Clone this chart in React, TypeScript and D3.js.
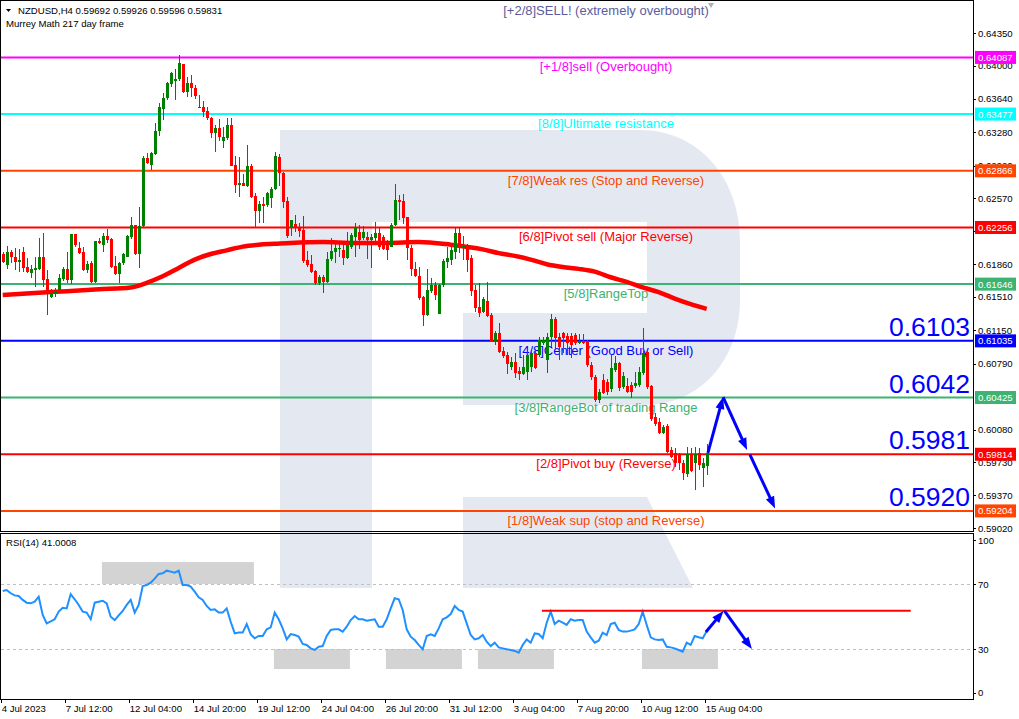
import React from "react";
import * as d3 from "d3";

const W = 1019;
const H = 719;

// [open, high, low, close] per H4 bar, starting 4 Jul 2023 20:00
const candles: number[][] = [
[0.6197,0.6199,0.6187,0.6188],[0.6185,0.6206,0.6181,0.6199],[0.6199,0.6201,0.6187,0.6194],[0.6194,0.6203,0.6180,0.6188],
[0.6188,0.6202,0.6178,0.6191],[0.6199,0.6205,0.6178,0.6182],[0.6183,0.6193,0.6177,0.6178],[0.6177,0.6185,0.6171,0.6181],
[0.6180,0.6194,0.6161,0.6182],[0.6181,0.6214,0.6180,0.6194],[0.6194,0.6220,0.6161,0.6169],[0.6170,0.6180,0.6131,0.6156],
[0.6151,0.6159,0.6150,0.6155],[0.6154,0.6160,0.6151,0.6157],[0.6158,0.6175,0.6157,0.6171],[0.6170,0.6183,0.6168,0.6181],
[0.6181,0.6199,0.6166,0.6169],[0.6169,0.6219,0.6165,0.6219],[0.6219,0.6219,0.6205,0.6207],[0.6203,0.6210,0.6197,0.6198],
[0.6199,0.6205,0.6179,0.6180],[0.6180,0.6189,0.6177,0.6186],[0.6187,0.6189,0.6166,0.6167],[0.6167,0.6211,0.6166,0.6211],
[0.6211,0.6214,0.6208,0.6209],[0.6207,0.6220,0.6199,0.6216],[0.6216,0.6224,0.6209,0.6212],[0.6213,0.6214,0.6182,0.6183],
[0.6184,0.6195,0.6174,0.6175],[0.6175,0.6188,0.6166,0.6187],[0.6187,0.6198,0.6185,0.6197],[0.6194,0.6217,0.6194,0.6216],
[0.6215,0.6237,0.6213,0.6228],[0.6228,0.6228,0.6196,0.6197],[0.6197,0.6248,0.6182,0.6227],[0.6227,0.6303,0.6226,0.6300],
[0.6300,0.6306,0.6294,0.6295],[0.6293,0.6307,0.6287,0.6306],[0.6305,0.6338,0.6304,0.6329],[0.6329,0.6360,0.6324,0.6355],
[0.6353,0.6370,0.6341,0.6365],[0.6365,0.6382,0.6363,0.6381],[0.6380,0.6393,0.6377,0.6392],[0.6383,0.6396,0.6363,0.6385],
[0.6385,0.6411,0.6383,0.6403],[0.6402,0.6402,0.6370,0.6372],[0.6372,0.6388,0.6366,0.6381],[0.6381,0.6390,0.6366,0.6376],
[0.6376,0.6379,0.6364,0.6367],[0.6354,0.6368,0.6354,0.6355],[0.6355,0.6362,0.6345,0.6350],[0.6351,0.6355,0.6341,0.6343],
[0.6343,0.6345,0.6322,0.6327],[0.6327,0.6336,0.6307,0.6333],[0.6333,0.6342,0.6319,0.6323],[0.6319,0.6334,0.6311,0.6323],
[0.6322,0.6343,0.6320,0.6336],[0.6336,0.6343,0.6292,0.6292],[0.6293,0.6303,0.6263,0.6271],[0.6271,0.6301,0.6258,0.6274],
[0.6274,0.6283,0.6270,0.6270],[0.6270,0.6314,0.6269,0.6292],[0.6292,0.6294,0.6257,0.6258],[0.6259,0.6263,0.6225,0.6243],
[0.6243,0.6254,0.6230,0.6251],[0.6251,0.6258,0.6230,0.6249],[0.6250,0.6264,0.6248,0.6263],[0.6257,0.6269,0.6247,0.6267],
[0.6267,0.6307,0.6266,0.6303],[0.6301,0.6305,0.6270,0.6284],[0.6284,0.6285,0.6247,0.6253],[0.6254,0.6258,0.6214,0.6216],
[0.6226,0.6234,0.6216,0.6234],[0.6229,0.6239,0.6221,0.6225],[0.6226,0.6230,0.6215,0.6222],[0.6223,0.6238,0.6187,0.6189],
[0.6191,0.6200,0.6183,0.6185],[0.6186,0.6196,0.6177,0.6178],[0.6179,0.6180,0.6164,0.6166],[0.6166,0.6174,0.6164,0.6172],
[0.6172,0.6174,0.6155,0.6167],[0.6167,0.6199,0.6166,0.6192],[0.6192,0.6214,0.6189,0.6200],[0.6199,0.6209,0.6187,0.6203],
[0.6202,0.6209,0.6194,0.6203],[0.6201,0.6207,0.6185,0.6193],[0.6193,0.6221,0.6192,0.6207],[0.6205,0.6220,0.6202,0.6217],
[0.6215,0.6230,0.6194,0.6225],[0.6221,0.6228,0.6202,0.6212],[0.6214,0.6227,0.6212,0.6221],[0.6215,0.6221,0.6192,0.6212],
[0.6212,0.6219,0.6182,0.6215],[0.6214,0.6231,0.6207,0.6220],[0.6220,0.6225,0.6201,0.6205],[0.6215,0.6217,0.6201,0.6202],
[0.6207,0.6212,0.6191,0.6201],[0.6205,0.6230,0.6205,0.6228],[0.6228,0.6272,0.6227,0.6255],[0.6255,0.6261,0.6234,0.6253],
[0.6254,0.6262,0.6229,0.6236],[0.6237,0.6237,0.6191,0.6203],[0.6203,0.6207,0.6173,0.6181],[0.6181,0.6188,0.6172,0.6173],
[0.6173,0.6183,0.6147,0.6150],[0.6151,0.6152,0.6119,0.6131],[0.6131,0.6181,0.6130,0.6158],[0.6157,0.6171,0.6155,0.6164],
[0.6164,0.6167,0.6147,0.6153],[0.6132,0.6165,0.6132,0.6164],[0.6164,0.6192,0.6161,0.6189],[0.6188,0.6205,0.6182,0.6193],
[0.6191,0.6205,0.6185,0.6201],[0.6199,0.6226,0.6192,0.6220],[0.6220,0.6225,0.6198,0.6207],[0.6205,0.6216,0.6191,0.6207],
[0.6207,0.6208,0.6178,0.6191],[0.6193,0.6196,0.6152,0.6157],[0.6158,0.6164,0.6135,0.6139],[0.6140,0.6166,0.6129,0.6133],
[0.6135,0.6151,0.6133,0.6149],[0.6146,0.6167,0.6129,0.6130],[0.6131,0.6133,0.6102,0.6103],[0.6102,0.6114,0.6099,0.6112],
[0.6112,0.6123,0.6090,0.6091],[0.6093,0.6097,0.6085,0.6087],[0.6088,0.6091,0.6068,0.6079],[0.6075,0.6086,0.6072,0.6081],
[0.6081,0.6090,0.6063,0.6069],[0.6071,0.6075,0.6061,0.6068],[0.6068,0.6088,0.6067,0.6075],[0.6070,0.6094,0.6061,0.6088],
[0.6075,0.6094,0.6070,0.6090],[0.6090,0.6095,0.6073,0.6074],[0.6088,0.6108,0.6086,0.6104],[0.6101,0.6108,0.6099,0.6104],
[0.6083,0.6112,0.6069,0.6108],[0.6108,0.6132,0.6097,0.6127],[0.6127,0.6129,0.6094,0.6107],[0.6108,0.6112,0.6083,0.6097],
[0.6112,0.6113,0.6090,0.6107],[0.6109,0.6112,0.6088,0.6101],[0.6109,0.6112,0.6085,0.6099],[0.6110,0.6112,0.6099,0.6101],
[0.6101,0.6111,0.6100,0.6103],[0.6102,0.6111,0.6100,0.6101],[0.6102,0.6104,0.6075,0.6077],[0.6077,0.6081,0.6061,0.6065],
[0.6065,0.6067,0.6038,0.6040],[0.6040,0.6052,0.6037,0.6048],[0.6061,0.6068,0.6046,0.6047],[0.6059,0.6062,0.6045,0.6048],
[0.6052,0.6088,0.6048,0.6074],[0.6072,0.6087,0.6070,0.6080],[0.6080,0.6081,0.6049,0.6053],[0.6054,0.6070,0.6052,0.6066],
[0.6055,0.6063,0.6047,0.6048],[0.6056,0.6059,0.6042,0.6048],[0.6055,0.6070,0.6053,0.6058],[0.6056,0.6075,0.6054,0.6070],
[0.6069,0.6117,0.6067,0.6090],[0.6091,0.6094,0.6052,0.6054],[0.6055,0.6056,0.6017,0.6019],[0.6022,0.6026,0.6012,0.6014],
[0.6016,0.6020,0.6003,0.6004],[0.6004,0.6013,0.6003,0.6011],[0.6012,0.6014,0.5983,0.5984],[0.5986,0.5989,0.5977,0.5978],
[0.5983,0.5988,0.5968,0.5972],[0.5982,0.5983,0.5964,0.5972],[0.5972,0.5975,0.5954,0.5961],[0.5960,0.5989,0.5957,0.5982],
[0.5982,0.5988,0.5962,0.5963],[0.5972,0.5989,0.5943,0.5982],[0.5983,0.5988,0.5964,0.5970],[0.5967,0.5977,0.5946,0.5972],
[0.59692,0.59926,0.59596,0.59831],
];

// 217-period moving average (bar index, value)
const maIndex = [0,8,16,24,32,36,40,44,48,52,56,60,64,68,72,80,88,96,104,112,120,124,128,132,136,140,144,148,152,156,160,164,168,172,176];
const maValue = [0.6153,0.6155,0.6157,0.6159,0.6161,0.6166,0.6173,0.6182,0.6191,0.6197,0.6201,0.6205,0.6207,0.6208,0.6209,0.6210,0.6209,0.6209,0.6210,0.6207,0.6202,0.6198,0.6195,0.6191,0.6186,0.6183,0.6181,0.6178,0.6172,0.6167,0.6161,0.6156,0.6149,0.6143,0.6138];

const rsiValues = [
65.7,66.3,64.3,63.0,62.6,60.2,58.5,58.1,59.1,62.2,
50.9,45.8,47.0,48.3,53.0,55.4,55.0,63.8,60.6,57.1,
53.0,52.4,48.3,58.5,59.1,59.7,58.1,49.9,47.8,50.7,
53.4,57.1,60.2,52.4,57.1,68.8,69.4,70.8,73.3,76.2,
76.6,78.2,77.6,77.0,78.2,69.4,69.4,68.4,65.3,61.8,
60.2,56.5,54.0,54.4,52.4,52.4,55.0,46.8,39.6,40.1,
40.1,45.4,39.0,36.6,38.0,38.0,42.1,43.3,52.4,48.3,
42.7,35.9,39.2,38.6,37.6,33.1,32.5,30.4,29.4,31.4,
31.8,38.0,41.7,42.1,42.1,40.7,43.7,47.8,50.3,48.3,
48.3,47.4,47.8,48.3,43.7,43.7,48.3,55.0,61.2,60.6,
54.0,42.1,37.6,35.5,32.5,29.8,38.0,39.0,38.0,42.7,
48.3,49.5,51.5,56.5,54.0,53.0,45.8,38.6,35.9,36.6,
38.6,34.5,31.8,33.9,31.0,30.4,29.8,29.4,28.8,27.7,
32.5,35.9,33.9,39.6,39.2,36.6,46.2,53.0,45.4,47.4,
46.2,44.8,48.3,47.4,47.8,47.8,40.7,37.2,33.9,35.1,
40.1,38.6,45.4,46.2,41.7,40.7,40.7,41.3,42.1,45.4,
53.0,44.8,37.2,35.9,35.5,35.9,31.4,31.0,30.4,29.4,
28.4,33.9,32.5,38.0,37.2,36.6,41.0,
];

const priceTicks = [0.6435,0.6400,0.6364,0.6328,0.6292,0.6257,0.6222,0.6186,0.6151,0.6115,0.6079,0.6008,0.5973,0.5937,0.5902];
const rsiTicks = [100, 70, 30, 0];
const timeLabels = ["4 Jul 2023","7 Jul 12:00","12 Jul 04:00","14 Jul 20:00","19 Jul 12:00","24 Jul 04:00","26 Jul 20:00","31 Jul 12:00","3 Aug 04:00","7 Aug 20:00","10 Aug 12:00","15 Aug 04:00"];
const timeLabelIndex = [0,16,32,48,64,80,96,112,128,144,160,176];

const levelNames = ["[+2/8]SELL! (extremely overbought)","[+1/8]sell (Overbought)","[8/8]Ultimate resistance","[7/8]Weak res (Stop and Reverse)","[6/8]Pivot sell (Major Reverse)","[5/8]RangeTop","[4/8]Center (Good Buy or Sell)","[3/8]RangeBot of trading Range","[2/8]Pivot buy (Reverse)","[1/8]Weak sup (stop and Reverse)"];
const levelValues = [0.64697,0.64087,0.63477,0.62866,0.62256,0.61646,0.61035,0.60425,0.59814,0.59204];
const levelColors = ["#5c5c9c","#ff00ff","#00ffff","#ff4500","#ff0000","#3cb371","#0000ff","#3cb371","#ff0000","#ff4500"];

const bigLabels = ["0.6103","0.6042","0.5981","0.5920"];
const bigLabelValues = [0.61035,0.60425,0.59814,0.59204];

// forecast arrows on price: [barIndex, price] pairs
const priceArrows = [
  [[176.3,0.5983],[180.1,0.6043]],
  [[180.1,0.6043],[186.1,0.5986]],
  [[186.8,0.5981],[193.1,0.5923]],
];
const rsiArrows = [
  [[175.8,40.5],[180.2,53.4]],
  [[180.4,53.6],[187.3,30.0]],
];
const rsiLevelLine = { from: 134.8, to: 227, value: 53.6 };
const rsiBoxes = [
  [24.8,62.8,70,83.5],
  [67.8,86.8,17.7,30],
  [95.8,114.8,17.7,30],
  [118.8,137.8,17.7,30],
  [159.8,178.8,17.7,30],
];

const FONT = "'Liberation Sans', Arial, sans-serif";

function Arrow({ x1, y1, x2, y2 }: { x1: number; y1: number; x2: number; y2: number }) {
  const dx = x2 - x1, dy = y2 - y1;
  const len = Math.hypot(dx, dy);
  const ux = dx / len, uy = dy / len;
  const hl = 12, hw = 4.5;
  const bx = x2 - ux * hl, by = y2 - uy * hl;
  const px = -uy, py = ux;
  return (
    <g>
      <line x1={x1} y1={y1} x2={bx + ux * 2} y2={by + uy * 2} stroke="#0000ff" strokeWidth={3} />
      <polygon
        points={`${x2},${y2} ${bx + px * hw},${by + py * hw} ${bx - px * hw},${by - py * hw}`}
        fill="#0000ff"
      />
    </g>
  );
}

export default function App() {
  const chartLeft = 1, chartRight = 973;
  const mainTop = 1, mainBottom = 531.5;
  const rsiTop = 533.5, rsiBottom = 699;

  const x = d3.scaleLinear().domain([0, 176]).range([2.7, 706.7]);
  const y = d3.scaleLinear().domain([0.6435, 0.5902]).range([33, 528]);
  const ry = d3.scaleLinear().domain([30, 70]).range([649, 584]);

  const maLine = d3.line<number>()
    .x((_, i) => x(maIndex[i]))
    .y((d) => y(d))
    .curve(d3.curveMonotoneX)(maValue) || "";

  const rsiLine = d3.line<number>()
    .x((_, i) => x(i))
    .y((d) => ry(d))(rsiValues) || "";

  // watermark "R" logo (decorative)
  const logoMain = "M280,130 L640,130 C700,130 740,180 740,240 L740,300 C740,360 700,405 645,405 L463,405 L463,313 L647,313 L647,222 L372,222 L372,588 L280,588 Z";
  const logoLeg = "M463,497 L647,497 L693,588 L463,588 Z";

  return (
    <svg
      width={W}
      height={H}
      style={{ position: "fixed", left: 0, top: 0, background: "#fff" }}
      fontFamily={FONT}
    >
      <defs>
        <clipPath id="mainClip">
          <rect x={chartLeft} y={mainTop + 1} width={chartRight - chartLeft} height={mainBottom - mainTop - 1} />
        </clipPath>
        <clipPath id="rsiClip">
          <rect x={chartLeft} y={rsiTop + 1} width={chartRight - chartLeft} height={rsiBottom - rsiTop - 1} />
        </clipPath>
      </defs>
      <rect x={0} y={0} width={W} height={H} fill="#fff" />

      {/* watermark */}
      <g fill="#e4e9f1">
        <path d={logoMain} />
        <path d={logoLeg} />
      </g>

      {/* ---------- MAIN PANEL ---------- */}
      <g clipPath="url(#mainClip)">
        {levelValues.map((v, i) => (
          <line key={"lv" + i} x1={chartLeft} x2={chartRight} y1={y(v)} y2={y(v)} stroke={levelColors[i]} strokeWidth={2} />
        ))}
        {levelValues.map((v, i) => (
          <text key={"lt" + i} x={606} y={y(v) + 14} textAnchor="middle" fontSize={13} fill={levelColors[i]}>
            {levelNames[i]}
          </text>
        ))}
        <path d={maLine} fill="none" stroke="#ff0000" strokeWidth={4.5} />
        <g shapeRendering="crispEdges">
          {candles.map((c, i) => {
            const [o, h, l, cl] = c;
            const up = cl >= o;
            const col = up ? "#008000" : "#ff0000";
            const cx = Math.round(x(i));
            const top = y(Math.max(o, cl));
            const bot = y(Math.min(o, cl));
            return (
              <g key={"c" + i}>
                <rect x={cx} y={y(h)} width={1} height={Math.max(1, y(l) - y(h))} fill={col} />
                <rect x={cx - 1} y={top} width={3} height={Math.max(1, bot - top)} fill={col} />
              </g>
            );
          })}
        </g>
        {priceArrows.map((a, i) => (
          <Arrow key={"pa" + i} x1={x(a[0][0])} y1={y(a[0][1])} x2={x(a[1][0])} y2={y(a[1][1])} />
        ))}
        {bigLabels.map((t, i) => (
          <text key={"bl" + i} x={970} y={y(bigLabelValues[i]) - 5} textAnchor="end" fontSize={26.5} fill="#0000ff">
            {t}
          </text>
        ))}
        <polygon points="708,3 714,3 711,8" fill="#b0b0b0" />
      </g>

      {/* header */}
      <polygon points="6,9 11,9 8.5,12" fill="#000" />
      <text x={18} y={14} fontSize={9.6} fill="#000">NZDUSD,H4  0.59692 0.59926 0.59596 0.59831</text>
      <text x={6} y={27} fontSize={9.6} fill="#000">Murrey Math 217 day frame</text>

      {/* ---------- RSI PANEL ---------- */}
      <g clipPath="url(#rsiClip)">
        {rsiBoxes.map((b, i) => (
          <rect key={"rb" + i} x={x(b[0])} y={ry(b[3])} width={x(b[1]) - x(b[0])} height={ry(b[2]) - ry(b[3])} fill="#d3d3d3" />
        ))}
        {[70, 30].map((v) => (
          <line key={"rl" + v} x1={chartLeft} x2={chartRight} y1={ry(v) + 0.5} y2={ry(v) + 0.5} stroke="#c0c0c0" strokeDasharray="3,3" strokeWidth={1} />
        ))}
        <path d={rsiLine} fill="none" stroke="#1e90ff" strokeWidth={2} />
        <line x1={x(rsiLevelLine.from)} x2={x(rsiLevelLine.to)} y1={ry(rsiLevelLine.value)} y2={ry(rsiLevelLine.value)} stroke="#ff0000" strokeWidth={2} />
        {rsiArrows.map((a, i) => (
          <Arrow key={"ra" + i} x1={x(a[0][0])} y1={ry(a[0][1])} x2={x(a[1][0])} y2={ry(a[1][1])} />
        ))}
      </g>
      <text x={6} y={546} fontSize={9.6} fill="#000">RSI(14) 41.0008</text>

      {/* frames */}
      <g fill="none" stroke="#000" strokeWidth={1} shapeRendering="crispEdges">
        <rect x={chartLeft - 0.5} y={mainTop - 0.5} width={chartRight - chartLeft + 0.5} height={mainBottom - mainTop} />
        <rect x={chartLeft - 0.5} y={rsiTop} width={chartRight - chartLeft + 0.5} height={rsiBottom - rsiTop} />
      </g>

      {/* price axis */}
      <g fontSize={9.6} fill="#000">
        {priceTicks.map((t) => (
          <g key={"pt" + t}>
            <line x1={chartRight} x2={chartRight + 3} y1={Math.round(y(t)) + 0.5} y2={Math.round(y(t)) + 0.5} stroke="#000" />
            <text x={978} y={y(t) + 3.5}>{t.toFixed(5)}</text>
          </g>
        ))}
        {levelValues.map((v, i) =>
          i === 0 ? null : (
            <g key={"pl" + i}>
              <rect x={975} y={y(v) - 6.5} width={41} height={13} fill={levelColors[i]} />
              <text x={978} y={y(v) + 3.5} fill="#fff">{v.toFixed(5)}</text>
            </g>
          )
        )}
      </g>

      {/* rsi axis */}
      <g fontSize={9.6} fill="#000">
        {rsiTicks.map((t) => {
          const yy = Math.min(Math.max(ry(t), rsiTop + 6.5), rsiBottom - 6.5);
          return (
            <g key={"rt" + t}>
              <line x1={chartRight} x2={chartRight + 3} y1={Math.round(yy) + 0.5} y2={Math.round(yy) + 0.5} stroke="#000" />
              <text x={978} y={yy + 3.5}>{t}</text>
            </g>
          );
        })}
      </g>

      {/* time axis */}
      <g fontSize={9.6} fill="#000">
        {timeLabels.map((t, i) => {
          const xx = x(timeLabelIndex[i]);
          return (
            <g key={"tl" + i}>
              <line x1={Math.round(xx) - 1.5} x2={Math.round(xx) - 1.5} y1={rsiBottom} y2={rsiBottom + 4} stroke="#000" />
              <text x={xx - 1} y={712}>{t}</text>
            </g>
          );
        })}
      </g>
    </svg>
  );
}
